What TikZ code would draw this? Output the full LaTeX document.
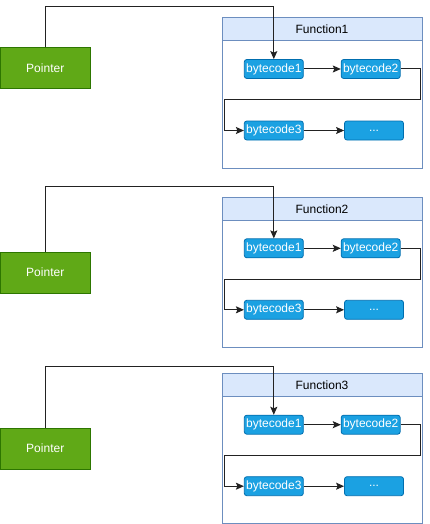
\documentclass[tikz,border=0pt]{standalone}
\usepackage{fontspec}
\setmainfont{Liberation Sans}
\usetikzlibrary{arrows.meta}
\definecolor{ptrfill}{HTML}{60A917}
\definecolor{ptrdraw}{HTML}{2D7600}
\definecolor{bcfill}{HTML}{1BA1E2}
\definecolor{bcdraw}{HTML}{006EAF}
\definecolor{contdraw}{HTML}{6C8EBF}
\definecolor{hdrfill}{HTML}{DAE8FC}
\definecolor{linecol}{HTML}{222222}
\begin{document}
\begin{tikzpicture}[x=1pt,y=-1pt,
  lbl/.style={font=\fontsize{12}{14}\selectfont},
  ptr/.style={lbl, draw=ptrdraw, fill=ptrfill, text=white, minimum width=89.5pt, minimum height=41pt, inner sep=0pt, line width=1pt},
  bc/.style={lbl, draw=bcdraw, fill=bcfill, rounded corners=2.5pt, text=white, minimum width=59pt, minimum height=19pt, inner sep=0pt, line width=0.8pt},
  cont/.style={draw=contdraw, fill=white, minimum width=200pt, minimum height=150pt, inner sep=0pt, line width=1pt},
  hdr/.style={lbl, draw=contdraw, fill=hdrfill, minimum width=200pt, minimum height=23pt, inner sep=0pt, line width=1pt},
  conn/.style={draw=linecol, line width=1pt, -{Stealth[length=8pt,width=7pt,inset=1.5pt]}}
]
\useasboundingbox (0,0) rectangle (429,524);
\foreach \i/\T/\P/\L in {1/18/48/7, 2/197.3/252/186.3, 3/373.7/428/366.7}{
  \node[cont] (c\i) at (322, \T+75) {};
  \node[hdr] (h\i) at (322, \T+11.5) {Function\i};
  \node[ptr] (p\i) at (45.25, \P+20.5) {Pointer};
  \node[bc] (a\i) at (273.8, \T+51) {bytecode1};
  \node[bc] (b\i) at (370.7, \T+51) {bytecode2};
  \node[bc] (d\i) at (273.8, \T+112.5) {bytecode3};
  \node[bc] (e\i) at (374, \T+112.5) {...};
  \coordinate (top\i) at (45.25, \L);
  \coordinate (r\i) at (420.3, \T+82);
  \coordinate (l\i) at (224.3, \T+82);
  \draw[conn] (p\i.north) |- (top\i) -| (a\i.north);
  \draw[conn] (a\i) -- (b\i);
  \draw[conn] (b\i.east) -| (r\i) -- (l\i) |- (d\i.west);
  \draw[conn] (d\i) -- (e\i);
}
\end{tikzpicture}
\end{document}
